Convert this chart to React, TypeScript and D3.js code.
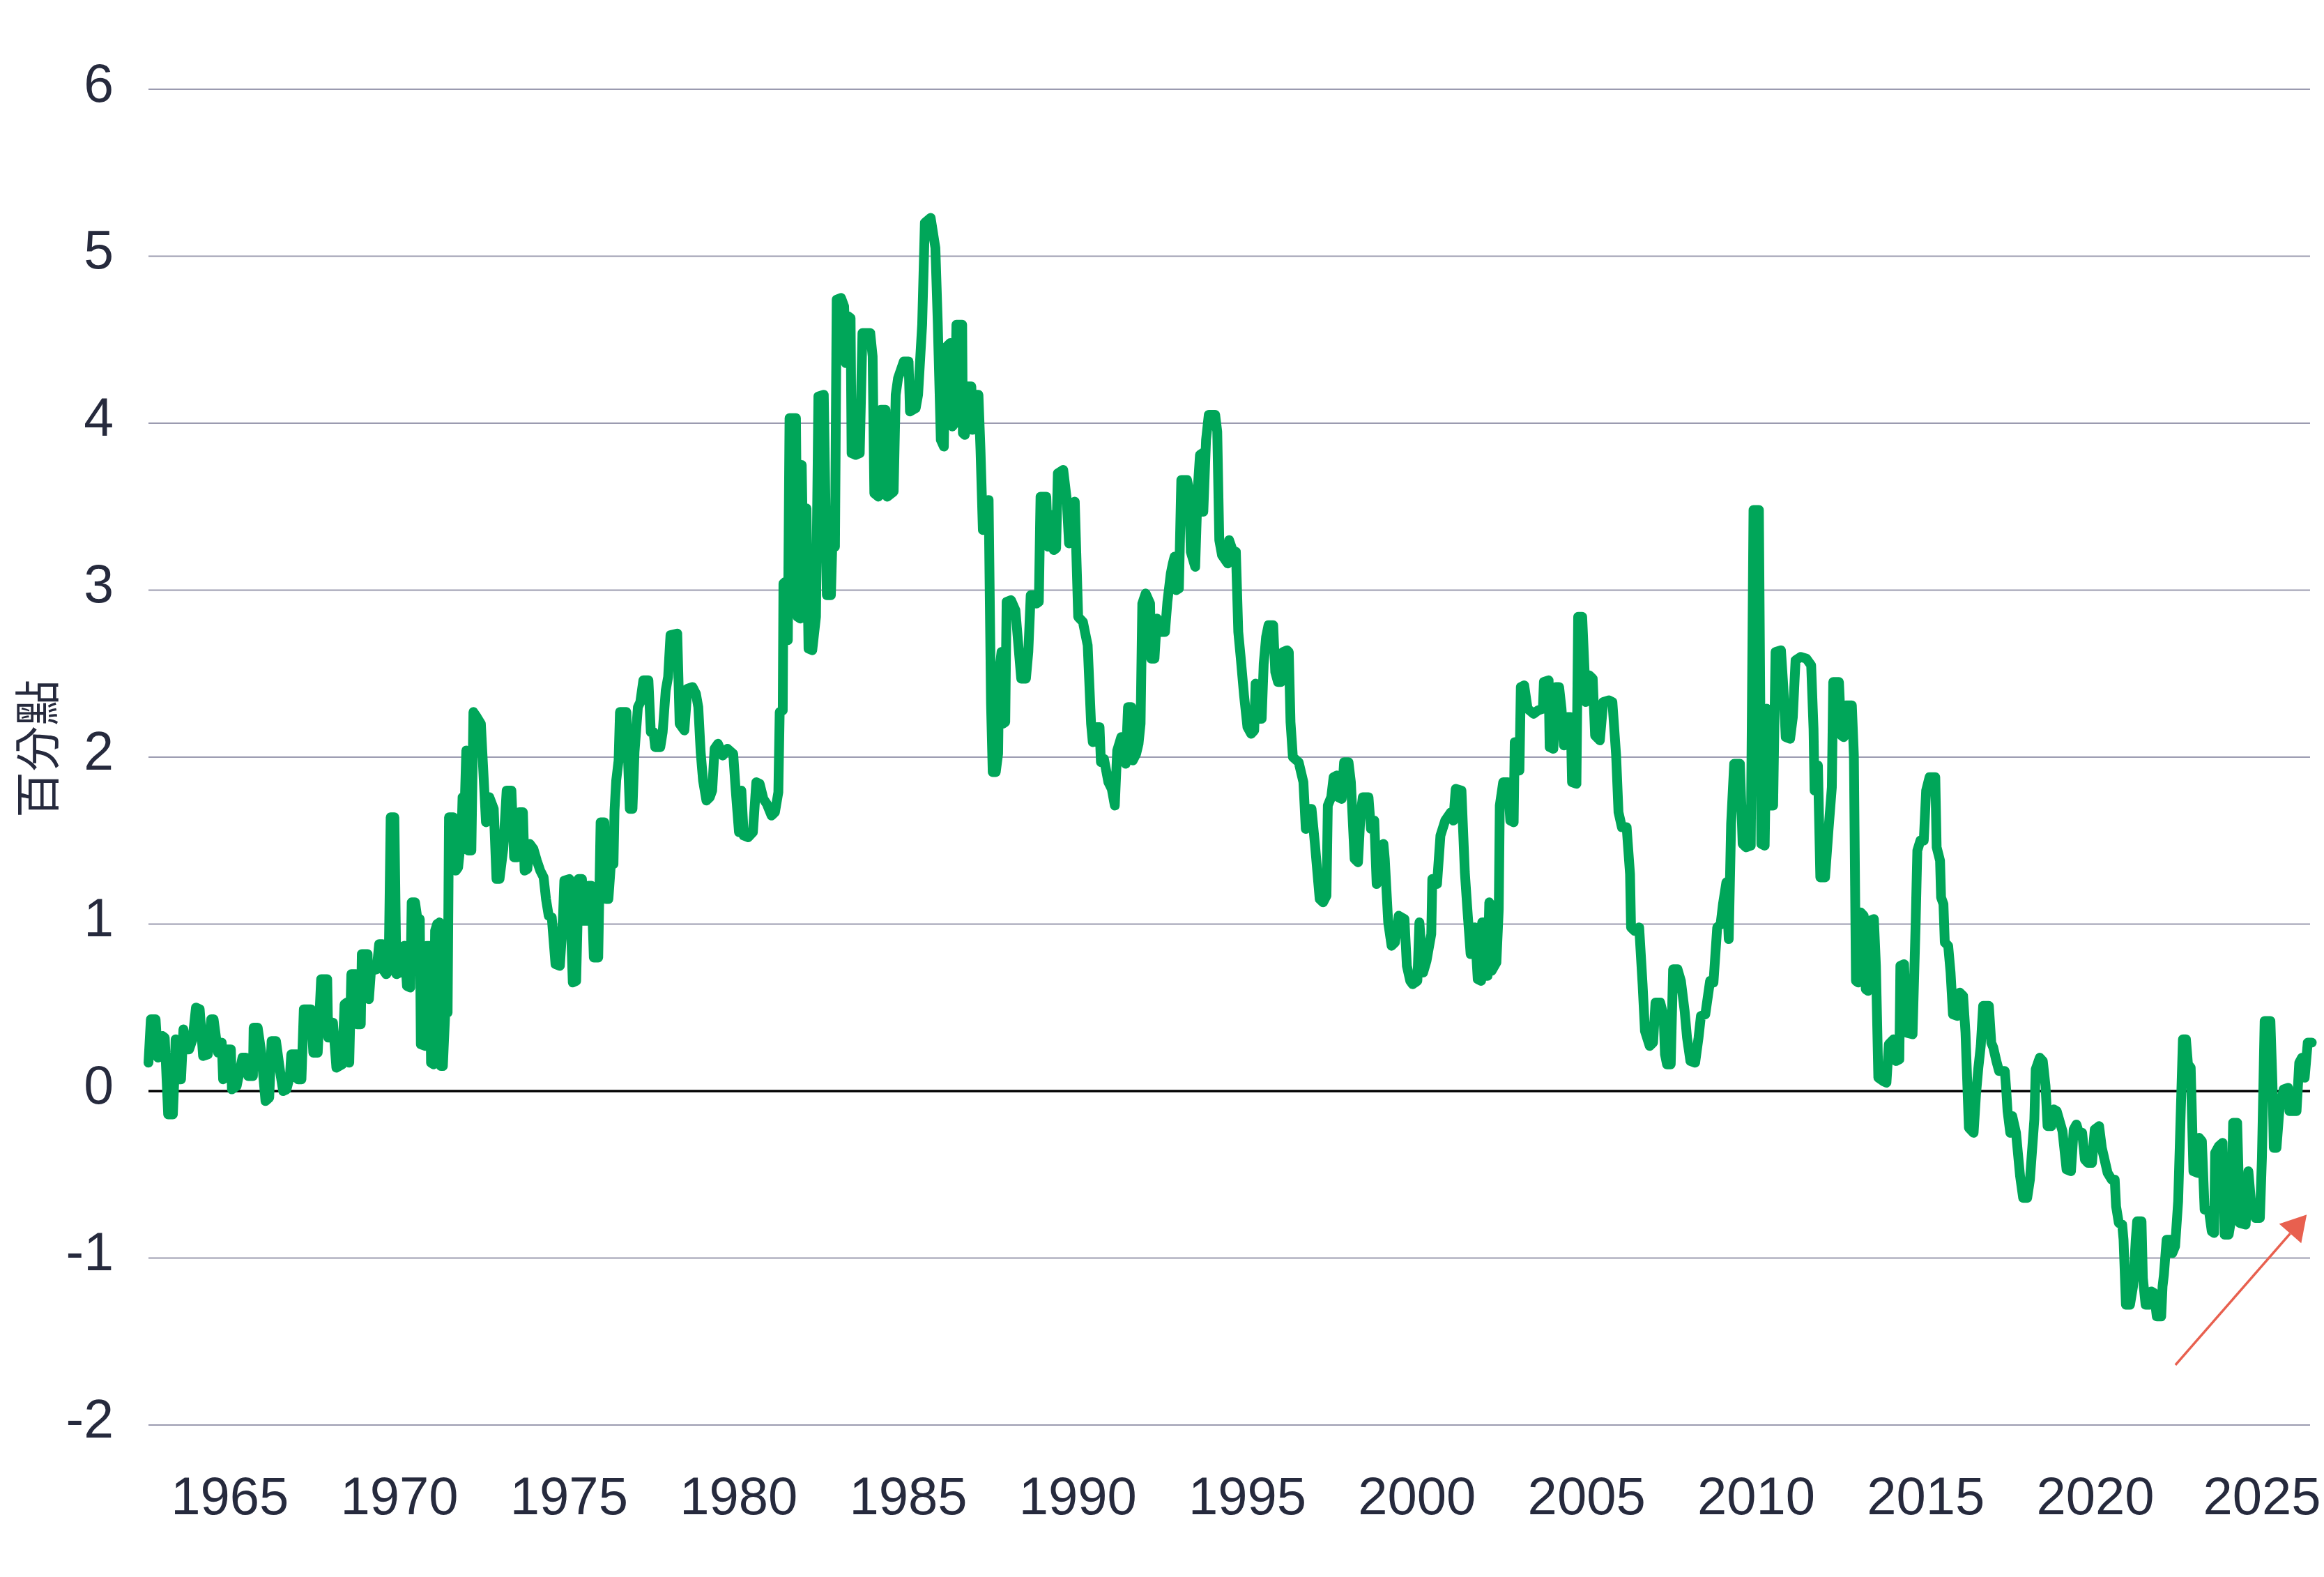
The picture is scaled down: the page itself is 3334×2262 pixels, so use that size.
import * as d3 from "d3";

// term premium, percentage points — [decimal year, value]
const d1960s: [number, number][] = [
  [1962.60,0.17],[1962.67,0.43],[1962.81,0.43],[1962.88,0.20],[1963.01,0.33],[1963.08,0.32],[1963.18,-0.14],[1963.32,-0.14],
  [1963.36,0.06],[1963.40,0.31],[1963.44,0.07],[1963.56,0.07],[1963.63,0.37],[1963.70,0.25],[1963.80,0.25],[1963.90,0.31],
  [1964.00,0.50],[1964.11,0.49],[1964.21,0.21],[1964.35,0.22],[1964.45,0.43],[1964.52,0.43],[1964.65,0.23],[1964.76,0.29],
  [1964.80,0.07],[1964.89,0.25],[1965.03,0.25],[1965.06,0.01],[1965.20,0.03],[1965.37,0.20],[1965.47,0.20],[1965.54,0.09],
  [1965.68,0.09],[1965.70,0.38],[1965.82,0.38],[1965.92,0.24],[1966.05,-0.06],[1966.16,-0.04],[1966.23,0.30],[1966.36,0.30],
  [1966.50,0.09],[1966.57,0.00],[1966.67,0.01],[1966.77,0.09],[1966.81,0.22],[1966.98,0.22],[1967.01,0.07],[1967.11,0.07],
  [1967.18,0.49],[1967.39,0.49],[1967.46,0.23],[1967.59,0.23],[1967.69,0.67],[1967.87,0.67],[1967.90,0.32],[1968.04,0.41],
  [1968.14,0.14],[1968.31,0.16],[1968.38,0.52],[1968.45,0.53],[1968.52,0.17],[1968.58,0.70],[1968.72,0.70],[1968.75,0.40],
  [1968.86,0.40],[1968.89,0.82],[1969.06,0.82],[1969.10,0.55],[1969.16,0.72],[1969.33,0.73],[1969.40,0.88],[1969.50,0.88],
  [1969.54,0.72],[1969.61,0.70],[1969.68,0.72],[1969.74,1.64],[1969.85,1.64],[1969.91,0.70],
];

const d1970s: [number, number][] = [
  [1970.01,0.71],[1970.05,0.86],[1970.15,0.87],[1970.22,0.63],[1970.32,0.62],[1970.36,1.13],[1970.46,1.13],[1970.53,1.03],
  [1970.60,1.03],[1970.63,0.28],[1970.77,0.27],[1970.80,0.87],[1970.90,0.87],[1970.93,0.17],[1971.01,0.16],[1971.05,0.96],
  [1971.11,1.00],[1971.18,1.01],[1971.22,0.15],[1971.28,0.15],[1971.35,0.47],[1971.42,0.47],[1971.46,1.64],[1971.59,1.64],
  [1971.66,1.32],[1971.73,1.34],[1971.83,1.54],[1971.86,1.76],[1971.93,1.76],[1971.97,2.04],[1972.03,1.44],[1972.12,1.44],
  [1972.18,2.27],[1972.28,2.24],[1972.40,2.20],[1972.55,1.61],[1972.65,1.76],[1972.78,1.69],[1972.86,1.27],[1972.95,1.27],
  [1973.06,1.45],[1973.16,1.80],[1973.30,1.80],[1973.38,1.40],[1973.47,1.40],[1973.53,1.67],[1973.64,1.67],[1973.69,1.32],
  [1973.77,1.33],[1973.84,1.48],[1973.95,1.45],[1974.05,1.38],[1974.15,1.32],[1974.25,1.28],[1974.32,1.15],[1974.40,1.05],
  [1974.49,1.04],[1974.60,0.76],[1974.73,0.75],[1974.82,1.04],[1974.86,1.26],[1975.01,1.27],[1975.11,0.65],[1975.21,0.66],
  [1975.28,1.27],[1975.38,1.27],[1975.43,1.02],[1975.52,1.02],[1975.57,1.23],[1975.66,1.23],[1975.73,0.80],[1975.86,0.80],
  [1975.93,1.61],[1976.04,1.61],[1976.09,1.15],[1976.16,1.15],[1976.23,1.35],[1976.31,1.36],[1976.34,1.68],[1976.39,1.86],
  [1976.46,1.98],[1976.50,2.27],[1976.69,2.27],[1976.79,1.69],[1976.87,1.69],[1976.93,2.03],[1977.03,2.30],[1977.10,2.33],
  [1977.19,2.46],[1977.34,2.46],[1977.41,2.15],[1977.49,2.15],[1977.54,2.06],[1977.69,2.06],[1977.76,2.15],[1977.85,2.40],
  [1977.92,2.48],[1977.99,2.73],[1978.19,2.74],[1978.26,2.20],[1978.40,2.16],[1978.49,2.41],[1978.64,2.42],[1978.74,2.38],
  [1978.81,2.30],[1978.88,2.03],[1978.95,1.86],[1979.05,1.74],[1979.15,1.76],[1979.22,1.80],[1979.29,2.05],[1979.39,2.08],
  [1979.53,2.01],[1979.67,2.05],[1979.84,2.02],[1979.91,1.81],
];

const d1980s: [number, number][] = [
  [1980.01,1.55],[1980.08,1.80],[1980.15,1.53],[1980.28,1.52],[1980.42,1.55],[1980.52,1.85],[1980.62,1.84],[1980.73,1.75],
  [1980.83,1.72],[1980.97,1.65],[1981.07,1.67],[1981.17,1.79],[1981.21,2.27],[1981.30,2.28],[1981.32,3.04],[1981.38,3.05],
  [1981.45,2.70],[1981.50,4.03],[1981.69,4.03],[1981.74,2.84],[1981.82,2.83],[1981.86,3.75],[1981.93,2.84],[1982.00,3.49],
  [1982.06,2.65],[1982.17,2.64],[1982.28,2.84],[1982.35,4.16],[1982.51,4.17],[1982.60,2.97],[1982.72,2.97],[1982.76,3.26],
  [1982.84,3.26],[1982.89,4.74],[1983.02,4.75],[1983.11,4.70],[1983.16,4.36],[1983.23,4.64],[1983.30,4.63],[1983.33,3.82],
  [1983.45,3.81],[1983.57,3.82],[1983.65,4.54],[1983.88,4.54],[1983.95,4.40],[1984.00,3.58],[1984.12,3.56],[1984.19,4.08],
  [1984.33,4.08],[1984.38,3.56],[1984.57,3.59],[1984.63,4.17],[1984.70,4.27],[1984.87,4.37],[1985.01,4.37],[1985.05,4.07],
  [1985.22,4.09],[1985.29,4.17],[1985.35,4.38],[1985.41,4.59],[1985.49,5.20],[1985.66,5.23],[1985.80,5.05],[1985.87,4.60],
  [1985.96,3.90],[1986.05,3.86],[1986.09,4.45],[1986.24,4.48],[1986.30,3.98],[1986.37,4.00],[1986.42,4.59],[1986.59,4.59],
  [1986.61,3.94],[1986.67,3.93],[1986.71,4.22],[1986.86,4.22],[1986.90,3.96],[1986.96,4.17],[1987.07,4.17],[1987.13,3.84],
  [1987.20,3.36],[1987.30,3.51],[1987.37,3.54],[1987.44,2.32],[1987.49,1.91],[1987.58,1.91],[1987.65,2.02],[1987.68,2.51],
  [1987.75,2.63],[1987.79,2.20],[1987.86,2.21],[1987.90,2.93],[1988.03,2.94],[1988.16,2.88],[1988.33,2.47],[1988.47,2.47],
  [1988.54,2.63],[1988.61,2.97],[1988.73,2.97],[1988.78,2.92],[1988.85,2.93],[1988.90,3.56],[1989.07,3.56],[1989.12,3.26],
  [1989.22,3.45],[1989.29,3.24],[1989.36,3.25],[1989.41,3.70],[1989.57,3.72],[1989.67,3.55],[1989.74,3.28],[1989.81,3.52],
  [1989.91,3.53],
];

const d1990s: [number, number][] = [
  [1990.01,2.84],[1990.15,2.81],[1990.29,2.67],[1990.39,2.20],[1990.44,2.09],[1990.56,2.18],[1990.64,2.18],[1990.68,1.97],
  [1990.77,1.99],[1990.90,1.85],[1991.00,1.81],[1991.09,1.71],[1991.16,2.04],[1991.28,2.12],[1991.41,1.96],[1991.48,2.30],
  [1991.58,2.30],[1991.62,1.98],[1991.72,2.02],[1991.79,2.08],[1991.85,2.20],[1991.90,2.92],[1992.00,2.98],[1992.13,2.92],
  [1992.16,2.59],[1992.26,2.59],[1992.33,2.83],[1992.47,2.75],[1992.57,2.75],[1992.64,2.93],[1992.74,3.10],[1992.80,3.16],
  [1992.85,3.20],[1992.90,3.00],[1992.98,3.01],[1993.05,3.66],[1993.22,3.66],[1993.28,3.60],[1993.33,3.23],[1993.46,3.14],
  [1993.53,3.59],[1993.60,3.81],[1993.67,3.82],[1993.70,3.47],[1993.78,3.90],[1993.86,4.05],[1994.05,4.05],[1994.11,3.95],
  [1994.17,3.30],[1994.25,3.21],[1994.35,3.18],[1994.42,3.16],[1994.46,3.30],[1994.56,3.24],[1994.66,3.23],[1994.73,2.75],
  [1994.80,2.60],[1994.90,2.37],[1995.00,2.18],[1995.11,2.14],[1995.20,2.16],[1995.24,2.44],[1995.31,2.23],[1995.42,2.23],
  [1995.48,2.56],[1995.55,2.72],[1995.62,2.79],[1995.76,2.79],[1995.82,2.51],[1995.90,2.45],[1995.99,2.45],[1996.05,2.63],
  [1996.17,2.64],[1996.22,2.63],[1996.27,2.21],[1996.34,2.00],[1996.51,1.97],[1996.65,1.85],[1996.72,1.57],[1996.75,1.69],
  [1996.89,1.69],[1996.99,1.48],[1997.13,1.15],[1997.23,1.13],[1997.33,1.17],[1997.37,1.71],[1997.47,1.76],[1997.54,1.88],
  [1997.64,1.89],[1997.68,1.76],[1997.78,1.75],[1997.85,1.97],[1997.98,1.97],[1998.05,1.85],[1998.16,1.39],[1998.26,1.37],
  [1998.33,1.64],[1998.40,1.76],[1998.57,1.76],[1998.64,1.57],[1998.74,1.62],[1998.81,1.24],[1998.87,1.43],[1999.01,1.48],
  [1999.05,1.39],[1999.15,1.01],[1999.25,0.87],[1999.35,0.89],[1999.46,1.05],[1999.63,1.03],[1999.70,0.75],[1999.80,0.66],
  [1999.87,0.64],
];

const d2000s: [number, number][] = [
  [2000.01,0.66],[2000.07,1.01],[2000.18,0.71],[2000.28,0.78],[2000.42,0.94],[2000.45,1.27],[2000.59,1.24],[2000.69,1.53],
  [2000.83,1.62],[2001.00,1.67],[2001.07,1.62],[2001.14,1.81],[2001.31,1.80],[2001.41,1.31],[2001.48,1.10],[2001.58,0.82],
  [2001.70,0.98],[2001.79,0.67],[2001.89,0.66],[2001.92,1.01],[2002.05,1.01],[2002.08,0.69],[2002.13,1.13],[2002.20,0.72],
  [2002.34,0.77],[2002.41,1.09],[2002.44,1.71],[2002.54,1.85],[2002.68,1.85],[2002.75,1.62],[2002.85,1.61],[2002.88,2.09],
  [2002.95,2.09],[2003.02,1.92],[2003.06,2.42],[2003.16,2.43],[2003.26,2.29],[2003.44,2.26],[2003.57,2.28],[2003.71,2.29],
  [2003.74,2.45],[2003.88,2.46],[2003.91,2.06],[2004.02,2.05],[2004.09,2.42],[2004.19,2.42],[2004.26,2.29],[2004.33,2.07],
  [2004.43,2.24],[2004.53,2.24],[2004.57,1.85],[2004.70,1.84],[2004.75,2.84],[2004.87,2.84],[2004.98,2.33],[2005.08,2.49],
  [2005.18,2.47],[2005.25,2.13],[2005.39,2.10],[2005.49,2.33],[2005.66,2.34],[2005.76,2.33],[2005.87,2.01],[2005.94,1.67],
  [2006.04,1.58],[2006.18,1.58],[2006.28,1.30],[2006.31,0.98],[2006.41,0.96],[2006.55,0.98],[2006.65,0.64],[2006.72,0.36],
  [2006.86,0.27],[2006.96,0.29],[2007.03,0.53],[2007.17,0.53],[2007.27,0.45],[2007.31,0.22],[2007.37,0.16],[2007.48,0.16],
  [2007.55,0.73],[2007.68,0.73],[2007.78,0.66],[2007.89,0.48],[2007.96,0.32],[2008.06,0.18],[2008.20,0.17],[2008.30,0.32],
  [2008.37,0.45],[2008.50,0.46],[2008.64,0.66],[2008.74,0.65],[2008.85,0.98],[2008.95,1.00],[2009.02,1.12],[2009.12,1.25],
  [2009.19,0.91],[2009.26,1.60],[2009.35,1.96],[2009.52,1.96],[2009.60,1.48],[2009.70,1.46],[2009.84,1.47],[2009.92,3.48],
  [2010.08,3.48],
];

const d2010s: [number, number][] = [
  [2010.15,1.48],[2010.25,1.47],[2010.31,2.29],[2010.38,1.71],[2010.50,1.71],[2010.57,2.63],[2010.73,2.64],[2010.80,2.42],
  [2010.87,2.12],[2011.00,2.11],[2011.08,2.24],[2011.16,2.58],[2011.31,2.60],[2011.48,2.59],[2011.62,2.55],[2011.69,2.17],
  [2011.72,1.80],[2011.82,1.95],[2011.89,1.28],[2012.03,1.28],[2012.13,1.56],[2012.23,1.82],[2012.27,2.45],[2012.44,2.45],
  [2012.51,2.13],[2012.58,2.12],[2012.64,2.31],[2012.82,2.31],[2012.88,2.01],[2012.94,0.66],[2013.01,0.65],[2013.08,1.07],
  [2013.17,1.05],[2013.23,0.61],[2013.30,0.60],[2013.35,1.02],[2013.47,1.03],[2013.53,0.75],[2013.60,0.08],[2013.74,0.06],
  [2013.84,0.05],[2013.91,0.28],[2014.05,0.31],[2014.12,0.18],[2014.22,0.19],[2014.25,0.75],[2014.36,0.76],[2014.43,0.35],
  [2014.61,0.34],[2014.70,1.00],[2014.75,1.44],[2014.84,1.50],[2014.94,1.50],[2015.01,1.80],[2015.11,1.88],[2015.28,1.88],
  [2015.32,1.46],[2015.42,1.38],[2015.45,1.16],[2015.52,1.12],[2015.56,0.89],[2015.66,0.87],[2015.73,0.71],[2015.80,0.46],
  [2015.93,0.45],[2016.00,0.59],[2016.10,0.57],[2016.17,0.35],[2016.27,-0.22],[2016.41,-0.25],[2016.48,-0.02],[2016.55,0.14],
  [2016.62,0.27],[2016.69,0.51],[2016.86,0.51],[2016.93,0.29],[2016.99,0.26],[2017.08,0.18],[2017.16,0.12],[2017.33,0.12],
  [2017.37,0.01],[2017.41,-0.12],[2017.49,-0.25],[2017.55,-0.15],[2017.66,-0.25],[2017.78,-0.51],[2017.87,-0.64],[2017.99,-0.64],
  [2018.07,-0.53],[2018.20,-0.17],[2018.24,0.13],[2018.36,0.20],[2018.45,0.18],[2018.53,0.03],[2018.59,-0.21],[2018.70,-0.21],
  [2018.78,-0.11],[2018.86,-0.12],[2019.03,-0.24],[2019.15,-0.47],[2019.28,-0.48],[2019.36,-0.23],[2019.44,-0.20],[2019.53,-0.26],
  [2019.61,-0.25],[2019.69,-0.41],[2019.78,-0.43],[2019.90,-0.43],[2019.98,-0.23],
];

const d2020s: [number, number][] = [
  [2020.11,-0.21],[2020.19,-0.34],[2020.36,-0.49],[2020.48,-0.53],[2020.57,-0.53],[2020.61,-0.69],[2020.69,-0.79],[2020.79,-0.80],
  [2020.83,-0.89],[2020.90,-1.28],[2021.02,-1.28],[2021.11,-1.17],[2021.19,-0.89],[2021.23,-0.78],[2021.36,-0.78],[2021.40,-1.12],
  [2021.48,-1.28],[2021.60,-1.28],[2021.65,-1.20],[2021.73,-1.21],[2021.81,-1.35],[2021.94,-1.35],[2021.98,-1.17],[2022.02,-1.10],
  [2022.10,-0.89],[2022.23,-0.89],[2022.27,-0.97],[2022.35,-0.93],[2022.44,-0.66],[2022.52,-0.10],[2022.58,0.31],[2022.67,0.31],
  [2022.73,0.16],[2022.81,0.14],[2022.89,-0.48],[2023.02,-0.49],[2023.06,-0.28],[2023.14,-0.30],[2023.22,-0.71],[2023.35,-0.72],
  [2023.43,-0.84],[2023.50,-0.85],[2023.53,-0.37],[2023.64,-0.33],[2023.75,-0.31],[2023.81,-0.86],[2023.93,-0.86],[2024.01,-0.76],
  [2024.06,-0.19],[2024.18,-0.19],[2024.26,-0.79],[2024.43,-0.80],[2024.51,-0.48],[2024.60,-0.69],[2024.72,-0.76],[2024.85,-0.76],
  [2024.91,-0.40],[2024.99,0.42],[2025.16,0.42],[2025.22,0.05],[2025.26,-0.34],[2025.34,-0.34],[2025.43,-0.10],[2025.55,0.01],
  [2025.68,0.02],[2025.72,-0.12],[2025.93,-0.12],[2026.01,0.17],[2026.09,0.20],[2026.17,0.08],[2026.26,0.29],[2026.38,0.29],
];

const yTicks = [-2, -1, 0, 1, 2, 3, 4, 5, 6];
const xTicks = [1965, 1970, 1975, 1980, 1985, 1990, 1995, 2000, 2005, 2010, 2015, 2020, 2025];
const yTitle = "百分點";

// annotation arrow (data units)
const arrowFrom: [number, number] = [2022.36, -1.64];
const arrowTo: [number, number] = [2026.23, -0.74];

const W = 3334, H = 2262;
const textColor = "#262a3d";
const gridColor = "#9b9bb0";
const green = "#00a659";
const red = "#e8604f";

const App = () => {
  const series = [...d1960s, ...d1970s, ...d1980s, ...d1990s, ...d2000s, ...d2010s, ...d2020s];

  const x = d3.scaleLinear().domain([1962.6, 2026.3]).range([213, 3312.6]);
  const y = d3.scaleLinear().domain([-2, 6]).range([2044, 128]);

  const line = d3.line<[number, number]>()
    .x(d => x(d[0]))
    .y(d => y(d[1]));

  // arrow geometry
  const ax0 = x(arrowFrom[0]), ay0 = y(arrowFrom[1]);
  const ax1 = x(arrowTo[0]), ay1 = y(arrowTo[1]);
  const ang = Math.atan2(ay1 - ay0, ax1 - ax0);
  const headLen = 36, headHalf = 21;
  const bx = ax1 - headLen * Math.cos(ang), by = ay1 - headLen * Math.sin(ang);
  const px = -Math.sin(ang), py = Math.cos(ang);
  const head = `${ax1},${ay1} ${bx + headHalf * px},${by + headHalf * py} ${bx - headHalf * px},${by - headHalf * py}`;

  return (
    <svg width={W} height={H} style={{position: "absolute", left: 0, top: 0, background: "#fff"}}
         fontFamily="'Liberation Sans', Arial, sans-serif">
      {/* grid */}
      {yTicks.filter(t => t !== 0).map(t => (
        <line key={t} x1={213} x2={3314} y1={y(t)} y2={y(t)} stroke={gridColor} strokeWidth={2}/>
      ))}
      <line x1={213} x2={3314} y1={y(0)} y2={y(0)} stroke="#000" strokeWidth={3.5}/>

      {/* y labels */}
      {yTicks.map(t => (
        <text key={t} x={163} y={y(t) + 17.5} textAnchor="end" fontSize={77} fill={textColor}>{t}</text>
      ))}

      {/* x labels */}
      {xTicks.map(t => (
        <text key={t} x={Math.min(x(t), 3245)} y={2172} textAnchor="middle" fontSize={76} fill={textColor}>{t}</text>
      ))}

      {/* y title */}
      <text transform={`translate(78, ${y(2.05)}) rotate(-90)`} textAnchor="middle" fontSize={66}
            fontFamily="'Noto Sans CJK TC', 'Noto Sans CJK SC', sans-serif" fill={textColor}>{yTitle}</text>

      {/* series */}
      <path d={line(series) ?? ""} fill="none" stroke={green} strokeWidth={14}
            strokeLinejoin="round" strokeLinecap="round"/>

      {/* arrow */}
      <line x1={ax0} y1={ay0} x2={bx} y2={by} stroke={red} strokeWidth={3.5}/>
      <polygon points={head} fill={red}/>
    </svg>
  );
};

export default App;
